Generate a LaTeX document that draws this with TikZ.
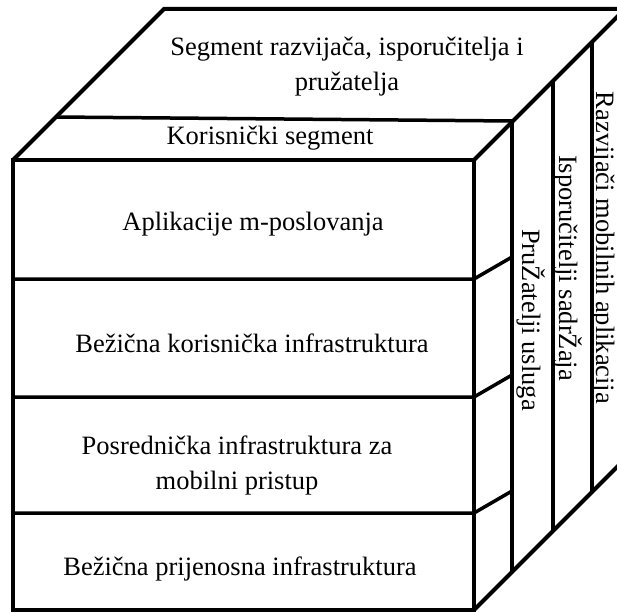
\documentclass[tikz,border=0pt]{standalone}
\usepackage{fontspec}
\setmainfont{Liberation Serif}
\usepackage{tikz}

\begin{document}
\begin{tikzpicture}[x=1pt, y=-1pt,
                    edge/.style={line width=4pt},
                    inner/.style={line width=3.5pt},
                    txt/.style={font=\fontsize{26.5}{35}\selectfont, align=center, inner sep=0pt}]
                        \useasboundingbox (0,0) rectangle (617,612);
                        \clip (0,0) rectangle (617,612);

                        \coordinate (ftl) at (13,160);
                        \coordinate (ftr) at (474,160);
                        \coordinate (fbr) at (474,610);
                        \coordinate (btl) at (164,9);
                        \coordinate (btr) at (625,9);
                        \coordinate (bbr) at (625,459);

                        \draw[edge] (ftl) rectangle (fbr);
                        \draw[edge] (ftl) -- (btl) -- (btr) -- (ftr);
                        \draw[edge] (fbr) -- (bbr) -- (btr);

                        \draw[inner] (56,117) -- (512,121);
                        \foreach \x/\t/\b in {512/121/572, 553/81/531, 592/42/492} {
                            \draw[inner] (\x,\t) -- (\x,\b);
                        }
                        \foreach \y in {279, 397, 513} {
                            \draw[inner] (13,\y) -- (474,\y) -- (512,\y-22);
                        }

                        \node[txt] (top) at (347,66.5) {Segment razvijača, isporučitelja i\\pružatelja};
                        \node[txt, anchor=base] (user) at (270,145) {Korisnički segment};
                        \node[txt, anchor=base] (apps) at (253,230) {Aplikacije m-poslovanja};
                        \node[txt, anchor=base] (wuser) at (252,352) {Bežična korisnička infrastruktura};
                        \node[txt] (mid) at (237,465) {Posrednička infrastruktura za\\mobilni pristup};
                        \node[txt, anchor=base] (wnet) at (240,575) {Bežična prijenosna infrastruktura};

                        \node[txt, anchor=base, rotate=-90] (prov) at (522,320) {PruŽatelji usluga};
                        \node[txt, anchor=base, rotate=-90] (cont) at (559,268) {Isporučitelji sadrŽaja};
                        \node[txt, anchor=base, rotate=-90] (dev) at (596,248) {Razvijači mobilnih aplikacija};
                    \end{tikzpicture}
\end{document}
